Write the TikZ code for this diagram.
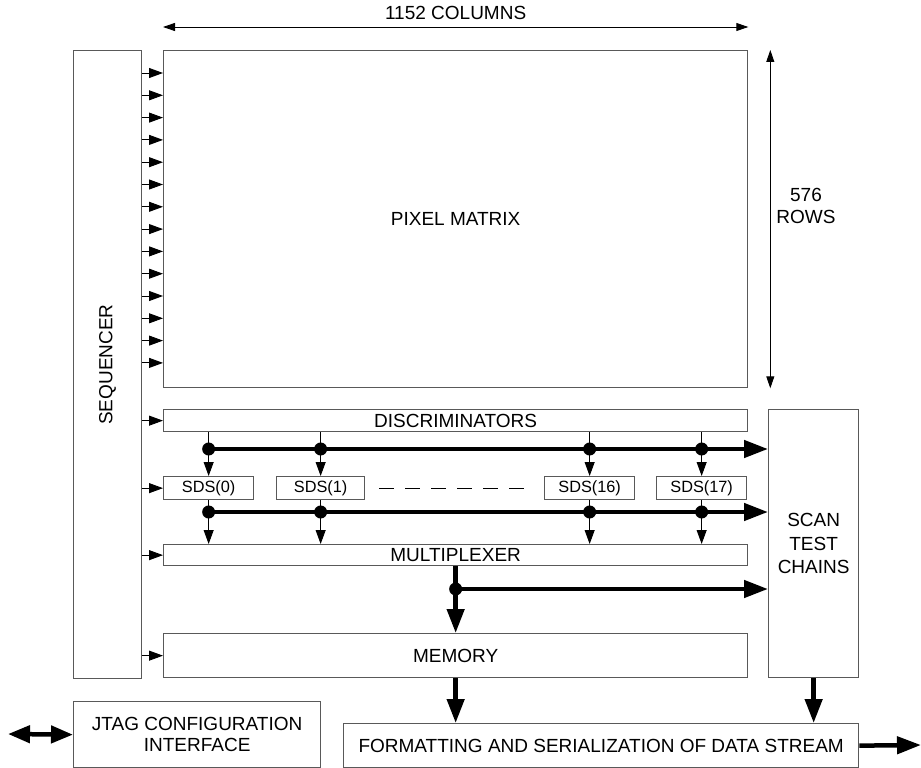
\documentclass[tikz,border=0pt]{standalone}
\usepackage{fontspec}
\setmainfont{Liberation Sans}
\usetikzlibrary{arrows.meta,calc}

\begin{document}
\begin{tikzpicture}[x=1pt,y=-1pt,
    blk/.style={draw=black!65, line width=1.3pt, rectangle, inner sep=0pt, anchor=north west,
        font=\fontsize{19}{22}\selectfont, align=center},
    sdsbox/.style={blk, font=\fontsize{16.3}{19}\selectfont},
    tap/.style={line width=0.9pt, -{Triangle[length=14pt,width=10pt]}},
    bus/.style={line width=4.5pt, -{Triangle[length=24pt,width=17pt]}},
    dbus/.style={line width=4.5pt, {Triangle[length=22pt,width=17pt]}-{Triangle[length=22pt,width=17pt]}},
    dim/.style={line width=0.9pt, {Triangle[length=12pt,width=8pt]}-{Triangle[length=12pt,width=8pt]}}]
    \useasboundingbox (0,0) rectangle (921,768);

    % Blocks
    \node[blk, minimum width=68pt, minimum height=628pt] (seq) at (73,50) {};
    \node[rotate=90, font=\fontsize{19}{22}\selectfont] (seqlabel) at (seq.center) {SEQUENCER};
    \node[blk, minimum width=584pt, minimum height=337pt] (pix) at (163,50) {PIXEL MATRIX};
    \node[blk, minimum width=584pt, minimum height=22pt] (disc) at (163,409) {DISCRIMINATORS};
    \node[sdsbox, minimum width=90pt, minimum height=23pt] (sds0) at (163,476) {SDS(0)};
    \node[sdsbox, minimum width=88pt, minimum height=23pt] (sds1) at (276,476) {SDS(1)};
    \node[sdsbox, minimum width=90pt, minimum height=23pt] (sds16) at (544,476) {SDS(16)};
    \node[sdsbox, minimum width=90pt, minimum height=23pt] (sds17) at (656,476) {SDS(17)};
    \node[blk, minimum width=584pt, minimum height=21pt] (mux) at (163,544) {MULTIPLEXER};
    \node[blk, minimum width=584pt, minimum height=44pt] (mem) at (163,633) {MEMORY};
    \node[blk, minimum width=90pt, minimum height=268pt, font=\fontsize{19}{23.5}\selectfont] (scan) at (768,409) {SCAN\\TEST\\CHAINS};
    \node[blk, minimum width=247pt, minimum height=66pt, font=\fontsize{19}{21}\selectfont] (jtag) at (73,701) {JTAG CONFIGURATION\\INTERFACE};
    \node[blk, minimum width=515pt, minimum height=44pt] (fmt) at (343,723) {FORMATTING AND SERIALIZATION OF DATA STREAM};

    % Dimensions of the matrix
    \draw[dim] ([yshift=23pt]pix.north west) -- ([yshift=23pt]pix.north east)
        node[midway, yshift=14pt, font=\fontsize{19}{22}\selectfont] (cols) {1152 COLUMNS};
    \draw[dim] ([xshift=22pt]pix.north east) -- ([xshift=22pt]pix.south east);
    \node[font=\fontsize{19}{22}\selectfont, align=center] (rows) at (806,206) {576\\ROWS};

    % Sequencer control lines
    \foreach \i in {0,...,13}
        \draw[tap] (seq.east |- 0,{73+22.3*\i}) -- (pix.west |- 0,{73+22.3*\i});
    \foreach \n in {disc,sds0,mux,mem}
        \draw[tap] (seq.east |- \n.west) -- (\n.west);

    % Buses
    \coordinate (busA) at (0,449);
    \coordinate (busB) at (0,512);
    \coordinate (busC) at (0,589);
    \foreach \s in {sds0,sds1,sds16,sds17} {
        \draw[tap] (disc.south -| \s.north) -- (\s.north);
        \fill (\s.north |- busA) circle (6.5);
        \draw[tap] (\s.south) -- (mux.north -| \s.south);
        \fill (\s.south |- busB) circle (6.5);
    }
    \draw[bus] (sds0.north |- busA) -- (scan.west |- busA);
    \draw[bus] (sds0.south |- busB) -- (scan.west |- busB);
    \draw[line width=1.2pt, dash pattern=on 15pt off 11pt, shorten <=14pt, shorten >=14pt] (sds1.east) -- (sds16.west);

    \draw[bus] (mux.south) -- (mem.north);
    \draw[bus] (mux.south |- busC) -- (scan.west |- busC);
    \fill (mux.south |- busC) circle (6.5);

    % Output side
    \draw[bus] (mem.south) -- (fmt.north -| mem.south);
    \draw[bus] (scan.south) -- (fmt.north -| scan.south);
    \coordinate (out) at (921,745);
    \draw[bus] (fmt.east) -- (out);
    \coordinate (ext) at (8,734);
    \draw[dbus] (ext) -- (jtag.west);
\end{tikzpicture}
\end{document}
